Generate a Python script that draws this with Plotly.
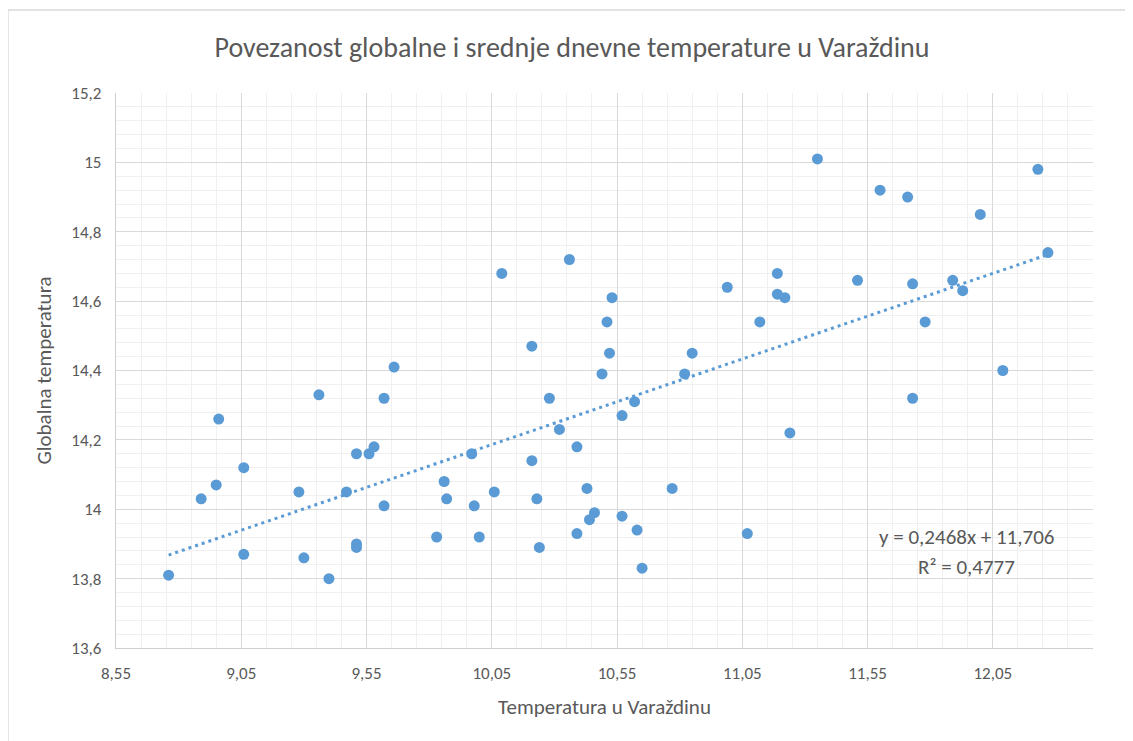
import plotly.graph_objects as go

# ---- data ----
temp_varazdin = [8.76, 8.89, 8.95, 8.96, 9.06, 9.06, 9.28, 9.30, 9.36, 9.40,
                 9.47, 9.51, 9.51, 9.51, 9.56, 9.58, 9.62, 9.62, 9.66, 9.83,
                 9.86, 9.87, 9.97, 9.98, 10.00, 10.06, 10.09, 10.21, 10.21, 10.23,
                 10.24, 10.28, 10.32, 10.36, 10.39, 10.39, 10.43, 10.44, 10.46, 10.49,
                 10.51, 10.52, 10.53, 10.57, 10.57, 10.62, 10.63, 10.65, 10.77, 10.82,
                 10.85, 10.99, 11.07, 11.12, 11.19, 11.19, 11.22, 11.24, 11.35, 11.51,
                 11.60, 11.71, 11.73, 11.73, 11.78, 11.89, 11.93, 12.00, 12.09, 12.23,
                 12.27]
global_temp = [13.81, 14.03, 14.07, 14.26, 13.87, 14.12, 14.05, 13.86, 14.33, 13.80,
               14.05, 14.16, 13.90, 13.89, 14.16, 14.18, 14.32, 14.01, 14.41, 13.92,
               14.08, 14.03, 14.16, 14.01, 13.92, 14.05, 14.68, 14.47, 14.14, 14.03,
               13.89, 14.32, 14.23, 14.72, 14.18, 13.93, 14.06, 13.97, 13.99, 14.39,
               14.54, 14.45, 14.61, 14.27, 13.98, 14.31, 13.94, 13.83, 14.06, 14.39,
               14.45, 14.64, 13.93, 14.54, 14.68, 14.62, 14.61, 14.22, 15.01, 14.66,
               14.92, 14.90, 14.32, 14.65, 14.54, 14.66, 14.63, 14.85, 14.40, 14.98,
               14.74]

trend_slope = 0.2468
trend_intercept = 11.706
trend_r2 = 0.4777

x_tickvals = [8.55, 9.05, 9.55, 10.05, 10.55, 11.05, 11.55, 12.05]
x_ticktext = ["8,55", "9,05", "9,55", "10,05", "10,55", "11,05", "11,55", "12,05"]
y_tickvals = [13.6, 13.8, 14.0, 14.2, 14.4, 14.6, 14.8, 15.0, 15.2]
y_ticktext = ["13,6", "13,8", "14", "14,2", "14,4", "14,6", "14,8", "15", "15,2"]

title_text = "Povezanost globalne i srednje dnevne temperature u Varaždinu"
x_title = "Temperatura u Varaždinu"
y_title = "Globalna temperatura"

# ---- styling ----
FONT = "Carlito, Lato, sans-serif"
TEXT = "#595959"
BLUE = "#5B9BD5"

# page body has an 8px margin; margins below compensate so the plot area
# lands where it is in the reference
ML, MR, MT, MB = 108, 48, 85, 101
PW = 1133 - ML - MR
PH = 741 - MT - MB

trend_x = [min(temp_varazdin), max(temp_varazdin)]
trend_y = [trend_slope * v + trend_intercept for v in trend_x]

fig = go.Figure()
fig.add_trace(go.Scatter(
    x=temp_varazdin, y=global_temp, mode="markers",
    marker=dict(color=BLUE, size=11, line=dict(width=0)),
    showlegend=False, hoverinfo="x+y"))
fig.add_trace(go.Scatter(
    x=trend_x, y=trend_y, mode="lines",
    line=dict(color=BLUE, width=3, dash="3px,4px"),
    showlegend=False, hoverinfo="skip"))

eq_text = "y = " + f"{trend_slope:.4f}".replace(".", ",") + "x + " + f"{trend_intercept:.3f}".replace(".", ",")
r2_text = "R² = " + f"{trend_r2:.4f}".replace(".", ",")

fig.update_layout(
    width=1133, height=741,
    margin=dict(l=ML, r=MR, t=MT, b=MB),
    paper_bgcolor="white", plot_bgcolor="white",
    separators=",.",
    font=dict(family=FONT, color=TEXT, size=17),
    title=dict(text=title_text, x=564 / 1133, xref="container", xanchor="center",
               y=1 - 39 / 741, yref="container", yanchor="middle",
               font=dict(size=28, color=TEXT, family=FONT)),
    xaxis=dict(range=[8.55, 12.45], tickmode="array", tickvals=x_tickvals, ticktext=x_ticktext,
               showgrid=True, gridcolor="#D9D9D9", gridwidth=1,
               minor=dict(tick0=8.55, dtick=0.1, showgrid=True, gridcolor="#F0F0F0", gridwidth=1),
               showline=True, linecolor="#CFCFCF", linewidth=1.3, ticks="", zeroline=False,
               tickfont=dict(size=17, color=TEXT), ticklabelstandoff=9,
               title=dict(text=x_title, font=dict(size=21, color=TEXT), standoff=16)),
    yaxis=dict(range=[13.6, 15.2], tickmode="array", tickvals=y_tickvals, ticktext=y_ticktext,
               showgrid=True, gridcolor="#D9D9D9", gridwidth=1,
               minor=dict(tick0=13.6, dtick=0.04, showgrid=True, gridcolor="#F0F0F0", gridwidth=1),
               showline=True, linecolor="#CFCFCF", linewidth=1.3, ticks="", zeroline=False,
               tickfont=dict(size=17, color=TEXT), ticklabelstandoff=10,
               title=dict(text=y_title, font=dict(size=21, color=TEXT), standoff=14)),
    annotations=[
        dict(x=11.945, y=13.919, xref="x", yref="y", text=eq_text, showarrow=False,
             xanchor="center", yanchor="middle", font=dict(size=21, color=TEXT)),
        dict(x=11.945, y=13.833, xref="x", yref="y", text=r2_text, showarrow=False,
             xanchor="center", yanchor="middle", font=dict(size=21, color=TEXT)),
    ],
    shapes=[dict(type="rect", xref="paper", yref="paper",
                 x0=(0 - ML) / PW, x1=(1160 - ML) / PW,
                 y0=(MT + PH - 780) / PH, y1=(MT + PH - 2) / PH,
                 line=dict(color="#D9D9D9", width=1.3), fillcolor="rgba(0,0,0,0)",
                 layer="below")],
)

fig.write_html("out.html")
